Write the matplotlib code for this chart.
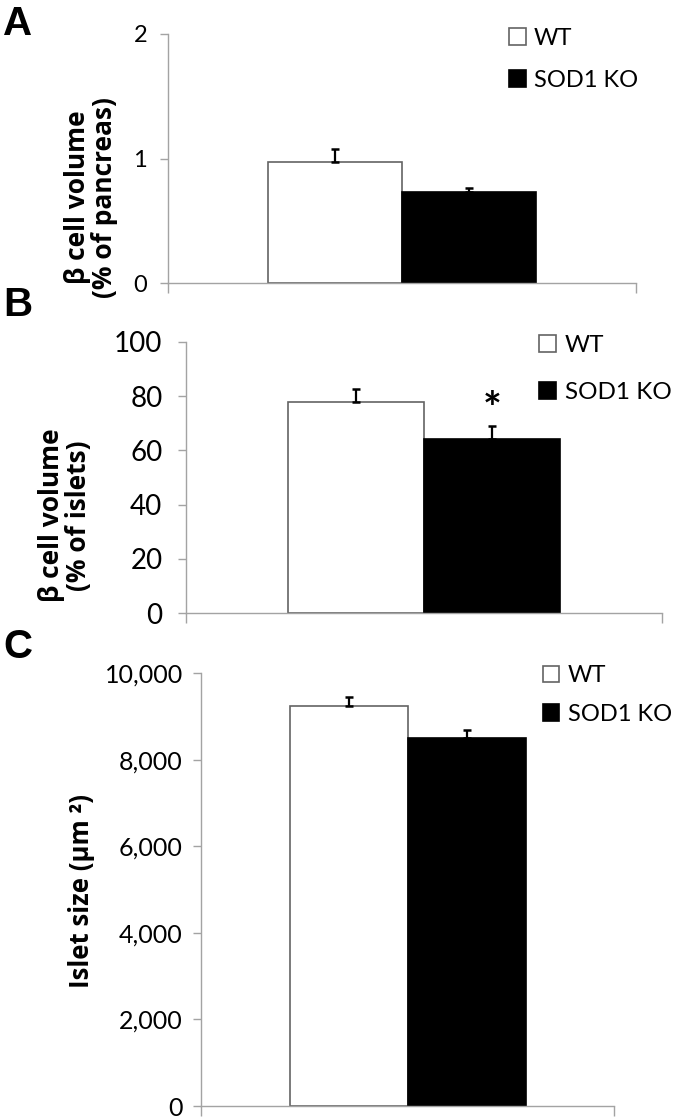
import matplotlib.pyplot as plt
from matplotlib.ticker import FuncFormatter

groups = ['WT', 'SOD1 KO']
bar_colors = ['white', 'black']
edge_colors = ['#636363', 'black']

# panel A: beta cell volume, % of pancreas
pancreas_mean = [0.97, 0.73]
pancreas_err = [0.11, 0.03]
# panel B: beta cell volume, % of islets
islet_frac_mean = [77.9, 64.2]
islet_frac_err = [4.8, 4.8]
# panel C: islet size, um2
islet_size_mean = [9230, 8490]
islet_size_err = [215, 205]

plt.rcParams['font.family'] = ['Lato', 'DejaVu Sans']

fig = plt.figure(figsize=(6.77, 11.2), dpi=100)
W, H = 677, 1120
grey = '#a3a3a3'
bar_w = 1 / 3.5


def make_panel(px, ymax, ystep, means, errs, tick_fs, tick_pad, leg_fs, leg_xy,
               leg_space, ylabel, ylab_xy, ylab_fs, fmt=None):
    left, top, right, bottom = px
    ax = fig.add_axes([left / W, 1 - bottom / H, (right - left) / W, (bottom - top) / H])
    for i, g in enumerate(groups):
        pos = (i - 0.5) * bar_w
        ax.bar(pos, means[i], width=bar_w, color=bar_colors[i],
               edgecolor=edge_colors[i], linewidth=1.2, label=g,
               yerr=[[0], [errs[i]]], capsize=3,
               error_kw=dict(ecolor='black', elinewidth=1.6, capthick=1.8))
    ax.set_xlim(-0.5, 0.5)
    ax.set_ylim(0, ymax)
    ax.set_yticks([ystep * k for k in range(int(round(ymax / ystep)) + 1)])
    if fmt:
        ax.yaxis.set_major_formatter(FuncFormatter(fmt))
    ax.set_xticks([-0.5, 0.5])
    ax.set_xticklabels([])
    ax.tick_params(axis='x', length=7, color=grey, width=1)
    ax.tick_params(axis='y', length=6, color=grey, width=1, labelsize=tick_fs, pad=tick_pad)
    for s in ['top', 'right']:
        ax.spines[s].set_visible(False)
    for s in ['left', 'bottom']:
        ax.spines[s].set_color(grey)
        ax.spines[s].set_linewidth(1)
    ax.legend(loc='center left', bbox_to_anchor=leg_xy, frameon=False,
              fontsize=leg_fs, handlelength=0.7, handleheight=0.7,
              handletextpad=0.35, labelspacing=leg_space, borderpad=0,
              borderaxespad=0)
    ax.text(ylab_xy[0], ylab_xy[1], ylabel, transform=ax.transAxes, rotation=90,
            ha='center', va='center', multialignment='center',
            fontsize=ylab_fs, fontweight='bold', family=['Open Sans', 'DejaVu Sans'],
            linespacing=1.0)
    return ax


axA = make_panel((168, 34, 636, 283), 2, 1, pancreas_mean, pancreas_err,
                 17, 9, 17, (0.729, 0.898), 0.9,
                 'β cell volume\n(% of pancreas)', (-0.165, 0.345), 19)

axB = make_panel((186, 342, 662, 613), 100, 20, islet_frac_mean, islet_frac_err,
                 20, 11, 17.5, (0.742, 0.9), 1.1,
                 'β cell volume\n(% of islets)', (-0.255, 0.36), 19)
axB.text(bar_w / 2, islet_frac_mean[1] + islet_frac_err[1] + 1, '*',
         ha='center', va='baseline', fontsize=32, fontweight='bold')

axC = make_panel((201, 673, 614, 1106), 10000, 2000, islet_size_mean, islet_size_err,
                 18, 7, 17, (0.828, 0.949), 0.75,
                 'Islet size (µm ²)', (-0.29, 0.497), 18.5,
                 fmt=lambda v, p: f'{v:,.0f}')

for letter, yb in [('A', 35), ('B', 316), ('C', 658)]:
    fig.text(3 / W, 1 - yb / H, letter, fontsize=29, fontweight='bold',
             family='Liberation Sans', va='baseline', ha='left')

fig.savefig('out.png', dpi=100)
